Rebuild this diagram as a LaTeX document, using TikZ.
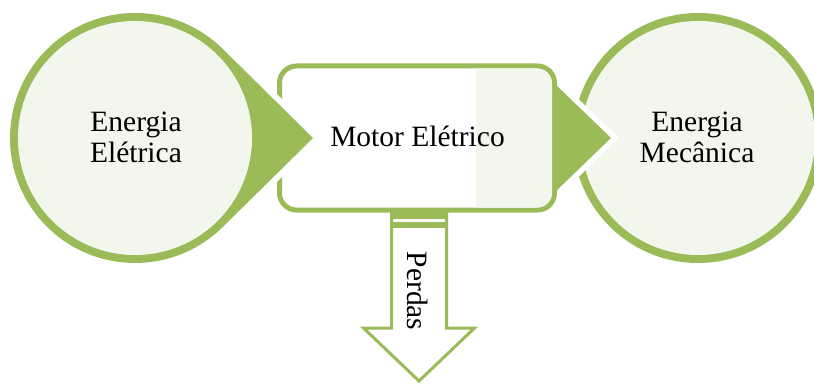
\documentclass[tikz,border=0pt]{standalone}
\usepackage{fontspec}
\setmainfont{Liberation Serif}
\definecolor{grn}{HTML}{9BBB59}
\definecolor{lgt}{HTML}{F3F6ED}
\begin{document}
\begin{tikzpicture}[x=1pt,y=-1pt,
  txt/.style={font=\fontsize{29.5}{31}\selectfont, align=center, text=black, inner sep=0pt},
  halo/.style={draw=white, line width=12, line join=miter},
  ring/.style={fill=grn}]
\useasboundingbox (0,0) rectangle (814,385);
\clip (0,0) rectangle (814,385);
% right circle
\fill[grn] (698,138) circle[radius=125];
\fill[lgt] (698,138) circle[radius=117];
% pointer of the motor box
\draw[halo, line width=11] (555,84) -- (611,138) -- (555,192) -- cycle;
\fill[grn] (555,84) -- (611,138) -- (555,192) -- cycle;
% motor box
\path[fill=white, draw=grn, line width=5, rounded corners=17] (279.5,66) rectangle (554.5,210);
\begin{scope}
  \clip[rounded corners=15] (282,68.5) rectangle (552,207.5);
  \fill[lgt] (476,60) rectangle (560,215);
\end{scope}
% left teardrop
\draw[halo] (313,138) -- (222.8,49) arc[start angle=-45.39, end angle=-314.61, radius=125] -- cycle;
\fill[grn] (313,138) -- (222.8,49) arc[start angle=-45.39, end angle=-314.61, radius=125] -- cycle;
\fill[lgt] (135,138) circle[radius=117];
% down arrow
\draw[grn, fill=white, line width=3, line join=miter]
  (391.5,212) -- (391.5,328) -- (363.5,328) -- (419,381) -- (474.5,328) -- (446.5,328) -- (446.5,212);
\fill[grn] (390,211) rectangle (448,219);
\fill[grn] (390,222) rectangle (448,228);
% texts
\node[txt] (eleft) at (136,137.5) {Energia\\Elétrica};
\node[txt, anchor=base] (motor) at (417.5,147) {Motor Elétrico};
\node[txt] (eright) at (697,137.5) {Energia\\Mecânica};
\node[txt, rotate=-90] (perdas) at (418,291) {Perdas};
\end{tikzpicture}
\end{document}
